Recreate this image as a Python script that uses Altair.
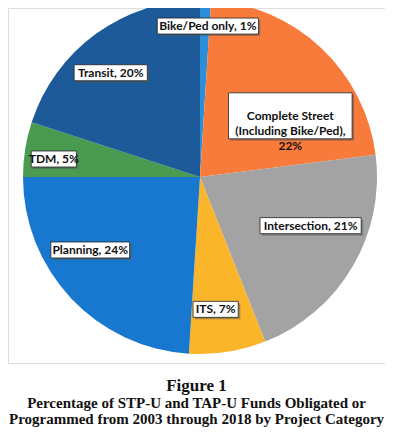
import math
import altair as alt
import pandas as pd

# ---- data ----
categories = ["Bike/Ped only", "Complete Street (Including Bike/Ped)", "Intersection",
              "ITS", "Planning", "TDM", "Transit"]
shares = [1, 22, 21, 7, 24, 5, 20]
label_lines = [["Bike/Ped only, 1%"],
               ["Complete Street", "(Including Bike/Ped),", "22%"],
               ["Intersection, 21%"],
               ["ITS, 7%"],
               ["Planning, 24%"],
               ["TDM, 5%"],
               ["Transit, 20%"]]
colors = ["#2a8fd8", "#f97b3c", "#a3a3a3", "#fbb52a", "#1877cf", "#4b9a52", "#1d5a9a"]

# ---- layout (not data) ----
CX, CY, R = 192, 169, 177
label_r = [155, 110, 125, 132, 130, 147, 140]
label_dx = [3, 15, 3, -5, -15, -1, -7]
label_dy = [4, 19, -15, 2, -16, 5, 9]
CHAR_W, LINE_H = 5.6, 15

total = sum(shares)
rows = []
cum = 0
for i, (c, s) in enumerate(zip(categories, shares)):
    mid = (cum + s / 2) / total * 2 * math.pi
    cum += s
    lx = CX + label_r[i] * math.sin(mid) + label_dx[i]
    ly = CY - label_r[i] * math.cos(mid) + label_dy[i]
    lines = label_lines[i]
    w = max(len(t) for t in lines) * CHAR_W + 6
    h = len(lines) * LINE_H + 1
    rows.append(dict(cat=c, share=s, order=i, lines=lines, lx=lx, ly=ly,
                     x1=lx - w / 2, x2=lx + w / 2, y1=ly - h / 2, y2=ly + h / 2,
                     sx1=lx - w / 2 + 2, sx2=lx + w / 2 + 2, sy1=ly - h / 2 + 2, sy2=ly + h / 2 + 2))
df = pd.DataFrame(rows)

base = alt.Chart(df)

pie = base.mark_arc(radius=R).encode(
    theta=alt.Theta("share:Q", stack=True),
    order=alt.Order("order:Q"),
    color=alt.Color("cat:N", scale=alt.Scale(domain=categories, range=colors), legend=None),
    x=alt.value(CX), y=alt.value(CY),
)

shadow = base.mark_rect(color="#555555", opacity=0.5).encode(
    x=alt.X("sx1:Q", scale=None), x2="sx2:Q",
    y=alt.Y("sy1:Q", scale=None), y2="sy2:Q",
)

box = base.mark_rect(fill="white", stroke="#222222", strokeWidth=0.8).encode(
    x=alt.X("x1:Q", scale=None), x2="x2:Q",
    y=alt.Y("y1:Q", scale=None), y2="y2:Q",
)

text = base.mark_text(font="Lato", fontWeight="bold", fontSize=12, color="#111111",
                      align="center", baseline="middle", lineHeight=LINE_H).encode(
    x=alt.X("lx:Q", scale=None), y=alt.Y("ly:Q", scale=None), text="lines"
)

chart = alt.layer(pie, shadow, box, text).properties(
    width=377, height=355,
    autosize=alt.AutoSizeParams(type="none"),
    padding={"left": 0, "top": 0, "right": 0, "bottom": 64},
    title=alt.TitleParams(
        text="Figure 1",
        subtitle=["Percentage of STP-U and TAP-U Funds Obligated or",
                  "Programmed from 2003 through 2018 by Project Category"],
        orient="bottom", anchor="middle", offset=15,
        font="Liberation Serif", fontSize=17, fontWeight="bold", color="#111111",
        subtitleFont="Liberation Serif", subtitleFontSize=15, subtitleFontWeight="bold",
        subtitleColor="#111111", subtitleLineHeight=16, subtitlePadding=1,
    ),
).configure_view(stroke=None).configure(background="white")

chart.save("out.html", embed_options={"renderer": "svg", "actions": False})
